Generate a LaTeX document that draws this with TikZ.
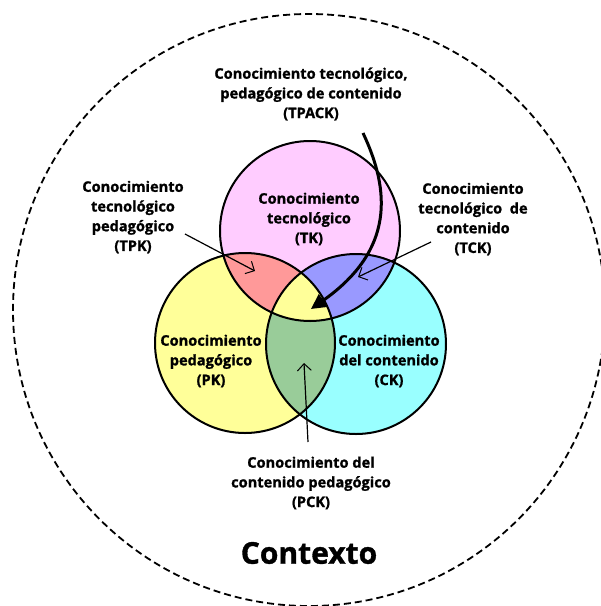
\documentclass[tikz,border=0pt]{standalone}
\usepackage{fontspec}
\setmainfont{Open Sans}[BoldFeatures={FakeBold=1.2}]
\usetikzlibrary{positioning,arrows.meta}

\definecolor{tkpink}{HTML}{FFCCFF}
\definecolor{pkyellow}{HTML}{FFFF99}
\definecolor{ckcyan}{HTML}{99FFFF}
\definecolor{tpkred}{HTML}{FF9999}
\definecolor{tckblue}{HTML}{9999FF}
\definecolor{pckgreen}{HTML}{99CC99}

\tikzset{
  lbl/.style={font=\bfseries\fontsize{14.6}{19.7}\selectfont, align=center, inner sep=0pt},
  ring/.style={line width=2pt},
  thinarrow/.style={line width=1.2pt, -{Straight Barb[length=7pt,width=14pt,line width=1pt]}},
  bigarrow/.style={line width=3pt, -{Triangle[length=15pt,width=15pt]}}
}

\begin{document}
\begin{tikzpicture}[x=1pt,y=-1pt]
\clip (0,0) rectangle (601,606);

\def\r{90pt}

% centres of the three circles
\coordinate (ctk) at (310,231);
\coordinate (cpk) at (245,343);
\coordinate (cck) at (356,344);

% context
\draw[line width=1.8pt, dash pattern=on 7pt off 4pt] (309,310) circle (296pt);

% fills
\fill[tkpink] (ctk) circle (\r);
\fill[pkyellow] (cpk) circle (\r);
\fill[ckcyan] (cck) circle (\r);
\begin{scope}
  \clip (ctk) circle (\r);
  \fill[tpkred] (cpk) circle (\r);
  \fill[tckblue] (cck) circle (\r);
\end{scope}
\begin{scope}
  \clip (cpk) circle (\r);
  \fill[pckgreen] (cck) circle (\r);
  \clip (cck) circle (\r);
  \fill[pkyellow] (ctk) circle (\r);
\end{scope}
\draw[ring] (ctk) circle (\r);
\draw[ring] (cpk) circle (\r);
\draw[ring] (cck) circle (\r);

% texts
\node[lbl] (tk) at (309,219) {Conocimiento\\tecnológico\\(TK)};
\node[lbl] (pk) at (211,361) {Conocimiento\\pedagógico\\(PK)};
\node[lbl] (ck) at (389,361) {Conocimiento\\del contenido\\(CK)};
\node[lbl] (tpack) at (311,94) {Conocimiento tecnológico,\\pedagógico de contenido\\(TPACK)};
\node[lbl] (tpk) at (133,217) {Conocimiento\\tecnológico\\pedagógico\\(TPK)};
\node[lbl] (tck) at (473,219) {Conocimiento\\tecnológico\ \ de\\contenido\\(TCK)};
\node[lbl] (pck) at (311,483) {Conocimiento del\\contenido pedagógico\\(PCK)};
\node[font=\bfseries\fontsize{30}{32}\selectfont, inner sep=0pt] (contexto) at (309,553) {Contexto};

% arrows
\coordinate (tpackfrom) at (363,133);
\coordinate (tpackto) at (311,309);
\coordinate (tpkfrom) at (185,234);
\coordinate (tpkto) at (255,271);
\coordinate (tckfrom) at (431,242);
\coordinate (tckto) at (358,277);
\coordinate (pckfrom) at (308,442);
\coordinate (pckto) at (304,363);

\draw[bigarrow] (tpackfrom) .. controls (390,190) and (395,250) .. (tpackto);
\draw[thinarrow] (tpkfrom) -- (tpkto);
\draw[thinarrow] (tckfrom) -- (tckto);
\draw[thinarrow] (pckfrom) -- (pckto);

\end{tikzpicture}
\end{document}
